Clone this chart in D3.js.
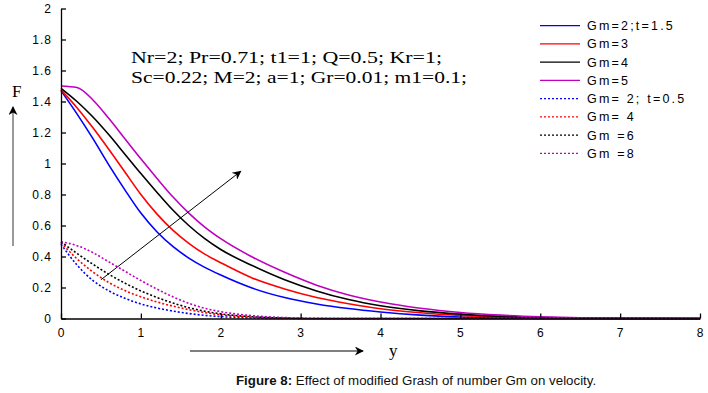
<!DOCTYPE html>
<html><head><meta charset="utf-8">
<script src="https://cdn.jsdelivr.net/npm/d3@7/dist/d3.min.js"></script>
<style>body{margin:0;background:#fff}svg{display:block}</style>
</head><body><div id="chart"></div>
<script>
const xGrid = [0,0.2,0.4,0.6,0.8,1.0,1.2,1.4,1.6,1.8,2.0,2.4,2.8,3.2,3.6,4.0,4.5,5.0,5.5,6.0,6.5,7.0,8.0];
const blueSolid    = [1.47,1.32,1.16,0.99,0.83,0.68,0.56,0.465,0.39,0.33,0.28,0.195,0.135,0.094,0.064,0.042,0.022,0.01,0.004,0.001,0,0,0];
const redSolid     = [1.475,1.36,1.23,1.09,0.945,0.80,0.675,0.57,0.485,0.415,0.36,0.26,0.19,0.135,0.095,0.063,0.037,0.02,0.01,0.004,0.001,0,0];
const blackSolid   = [1.485,1.40,1.30,1.185,1.06,0.935,0.815,0.70,0.60,0.515,0.445,0.34,0.25,0.178,0.122,0.082,0.049,0.028,0.014,0.006,0.002,0.001,0];
const magentaSolid = [1.50,1.49,1.41,1.29,1.16,1.03,0.905,0.785,0.68,0.59,0.515,0.395,0.298,0.215,0.152,0.106,0.066,0.039,0.022,0.011,0.004,0.001,0];
const blueDot      = [0.48,0.345,0.245,0.178,0.13,0.094,0.068,0.048,0.032,0.02,0.012,0.003,0,0,0,0,0,0,0,0,0,0,0];
const redDot       = [0.49,0.385,0.30,0.232,0.18,0.14,0.107,0.08,0.057,0.038,0.024,0.008,0.002,0,0,0,0,0,0,0,0,0,0];
const blackDot     = [0.495,0.42,0.35,0.285,0.228,0.178,0.136,0.10,0.07,0.047,0.03,0.011,0.003,0,0,0,0,0,0,0,0,0,0];
const magentaDot   = [0.495,0.47,0.425,0.365,0.305,0.245,0.19,0.14,0.098,0.066,0.044,0.018,0.006,0.001,0,0,0,0,0,0,0,0,0];

const seriesNames = ["Gm=2;t=1.5","Gm=3","Gm=4","Gm=5","Gm= 2; t=0.5","Gm= 4","Gm =6","Gm =8"];
const seriesValues = [blueSolid, redSolid, blackSolid, magentaSolid, blueDot, redDot, blackDot, magentaDot];
const seriesColors = ["#0000ff","#ff0000","#000000","#bf00bf","#0000ff","#ff0000","#000000","#bf00bf"];
const seriesDashed = [false,false,false,false,true,true,true,true];

const xTicks = [0,1,2,3,4,5,6,7,8];
const yTicks = [0,0.2,0.4,0.6,0.8,1,1.2,1.4,1.6,1.8,2];
const paramLines = ["Nr=2; Pr=0.71; t1=1; Q=0.5; Kr=1;","Sc=0.22; M=2; a=1; Gr=0.01; m1=0.1;"];
const arrowFrom = [0.5, 0.25], arrowTo = [2.25, 0.95];

const W = 708, H = 393;
const svg = d3.select("#chart").append("svg").attr("width", W).attr("height", H);
svg.append("rect").attr("width", W).attr("height", H).attr("fill", "#fff");

const x = d3.scaleLinear().domain([0,8]).range([61,700]);
const y = d3.scaleLinear().domain([0,2]).range([318.5,8.5]);

const defs = svg.append("defs");
defs.append("marker").attr("id","ah").attr("viewBox","0 0 10 10").attr("refX",9).attr("refY",5)
  .attr("markerWidth",12).attr("markerHeight",9).attr("markerUnits","userSpaceOnUse").attr("orient","auto")
  .append("path").attr("d","M0,0 L10,5 L0,10 L3,5 Z").attr("fill","#000");

// curves
const line = d3.line().x((d,i)=>x(xGrid[i])).y(d=>y(d)).curve(d3.curveMonotoneX);
seriesValues.forEach((vals,k)=>{
  svg.append("path").datum(vals).attr("d", line).attr("fill","none")
    .attr("stroke", seriesColors[k]).attr("stroke-width", 1.6)
    .attr("stroke-dasharray", seriesDashed[k] ? "2,2" : null);
});

// axes
const xAxis = d3.axisBottom(x).tickValues(xTicks).tickSizeInner(-5).tickSizeOuter(0).tickPadding(10).tickFormat(d3.format("d"));
const yAxis = d3.axisLeft(y).tickValues(yTicks).tickSizeInner(-5).tickSizeOuter(0).tickPadding(9).tickFormat(d=>String(+d.toFixed(1)));
const gx = svg.append("g").attr("transform",`translate(0,${y(0)})`).call(xAxis);
const gy = svg.append("g").attr("transform",`translate(${x(0)},0)`).call(yAxis);
[gx,gy].forEach(g=>{
  g.selectAll("path,line").attr("stroke","#000").attr("stroke-width",1.3);
  g.selectAll("text").attr("font-family","Liberation Sans, Arial, sans-serif").attr("font-size",12).attr("fill","#000").attr("letter-spacing",1);
});

// diagonal arrow
svg.append("line").attr("x1",x(arrowFrom[0])).attr("y1",y(arrowFrom[1])).attr("x2",x(arrowTo[0])).attr("y2",y(arrowTo[1]))
  .attr("stroke","#000").attr("stroke-width",1).attr("marker-end","url(#ah)");

// parameter text
paramLines.forEach((t,i)=>{
  svg.append("text").attr("x",131).attr("y",63 + i*19.5).text(t)
    .attr("font-family","Liberation Serif, Times New Roman, serif").attr("font-size",16)
    .attr("textLength", i===0 ? 311 : 336).attr("lengthAdjust","spacingAndGlyphs").attr("fill","#000");
});

// legend
const lg = svg.append("g");
seriesNames.forEach((n,i)=>{
  const yy = 25.7 + i*18.25;
  lg.append("line").attr("x1",540).attr("x2",580).attr("y1",yy).attr("y2",yy)
    .attr("stroke",seriesColors[i]).attr("stroke-width",1.3).attr("stroke-dasharray", seriesDashed[i] ? "2,2" : null);
  lg.append("text").attr("x",587).attr("y",yy+4.5).text(n)
    .attr("font-family","Liberation Sans, Arial, sans-serif").attr("font-size",12.5).attr("letter-spacing",2.2).attr("fill","#000");
});

// y-axis arrow and label
svg.append("line").attr("x1",13).attr("x2",13).attr("y1",246).attr("y2",107)
  .attr("stroke","#555").attr("stroke-width",1.2).attr("marker-end","url(#ah)");
svg.append("text").attr("x",12).attr("y",97).text("F")
  .attr("font-family","Liberation Serif, Times New Roman, serif").attr("font-size",17).attr("fill","#000");

// x-axis arrow and label
svg.append("line").attr("x1",190).attr("x2",363).attr("y1",351).attr("y2",351)
  .attr("stroke","#000").attr("stroke-width",1.2).attr("marker-end","url(#ah)");
svg.append("text").attr("x",389).attr("y",356).text("y")
  .attr("font-family","Liberation Serif, Times New Roman, serif").attr("font-size",17).attr("fill","#000");

// caption
const cap = svg.append("text").attr("x",236).attr("y",385)
  .attr("font-family","Liberation Sans, Arial, sans-serif").attr("font-size",13.3).attr("fill","#111");
cap.append("tspan").attr("font-weight","bold").text("Figure 8:");
cap.append("tspan").text(" Effect of modified Grash of number Gm on velocity.");
</script></body></html>
